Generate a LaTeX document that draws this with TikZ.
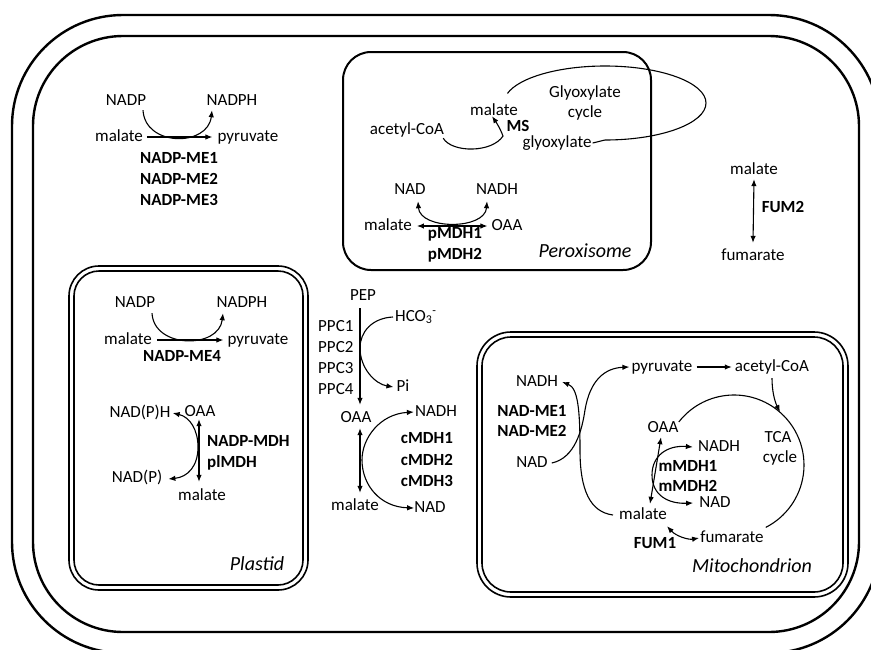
\documentclass[tikz,border=0pt]{standalone}
\usepackage{fontspec}
\setmainfont{Carlito}
\usetikzlibrary{arrows.meta}
\begin{document}
\begin{tikzpicture}[x=1pt,y=1pt,
  >={Latex[length=7pt,width=5.5pt]},
  every node/.style={inner sep=0pt, text height=12pt, text depth=4pt, font=\fontsize{17}{20}\selectfont},
  enz/.style={font=\fontsize{17}{20}\selectfont\bfseries},
  org/.style={font=\fontsize{20}{24}\selectfont\itshape, text height=14pt, text depth=5pt},
  thinl/.style={line width=1.1pt},
  rx/.style={line width=1.1pt,->},
  rxx/.style={line width=1.1pt,<->},
  wall/.style={line width=2.4pt},
  memb/.style={line width=1.6pt},
]
\useasboundingbox (0,0) rectangle (871,-649);
\fill[white] (0,0) rectangle (871,-649);

% cell wall and plasma membrane
\draw[wall, rounded corners=111pt] (12,-15) rectangle (880,-653);
\draw[wall, rounded corners=90pt] (33,-36) rectangle (859,-632);

% organelles
\draw[line width=2pt, rounded corners=28pt] (343,-52) rectangle (651,-270);
\draw[memb, rounded corners=30pt] (69,-266) rectangle (308,-590);
\draw[memb, rounded corners=25pt] (74,-271) rectangle (303,-585);
\draw[memb, rounded corners=34pt] (477,-332) rectangle (848,-597);
\draw[memb, rounded corners=29pt] (482,-337) rectangle (843,-592);

% cytosolic NADP-ME
\node (tNADP) at (126,-101) {NADP};
\node (tNADPH) at (232,-101) {NADPH};
\node (tMal) at (119,-137) {malate};
\node (tPyr) at (248,-137) {pyruvate};
\node[enz] (me1) at (179,-159) {NADP-ME1};
\node[enz] (me2) at (179,-180) {NADP-ME2};
\node[enz] (me3) at (179,-201) {NADP-ME3};
\draw[rx] ([xshift=4pt]tMal.east) -- ([xshift=-5pt]tPyr.west);
\draw[rx] ([xshift=17pt,yshift=-1pt]tNADP.south) .. controls (145,-147) and (208,-147) .. ([xshift=-20pt,yshift=-1pt]tNADPH.south);

% peroxisome
\node (pMalU) at (494,-111) {malate};
\node (pAcCoA) at (407,-130) {acetyl-CoA};
\node[enz] (ms) at (518,-127) {MS};
\node (pGly) at (557,-143) {glyoxylate};
\node (glyT1) at (585,-93) {Glyoxylate};
\node (glyT2) at (585,-113) {cycle};
\coordinate (J) at (503,-136);
\draw[rx] ([xshift=-1pt]pAcCoA.south east) .. controls (452,-153) and (492,-153) .. (J) .. controls (500,-128) and (496,-122) .. ([xshift=-2pt,yshift=3pt]pMalU.south);
\draw[thinl] ([xshift=1pt]pGly.east) -- (605,-140) arc[start angle=270, end angle=525, x radius=101, y radius=37];

\node (pNAD) at (410,-190) {NAD};
\node (pNADH) at (497,-190) {NADH};
\node (pMal) at (388,-226) {malate};
\node (pOAA) at (507,-226) {OAA};
\draw[rxx] ([xshift=5pt]pMal.east) -- ([xshift=-4pt]pOAA.west);
\draw[rxx] ([xshift=8pt,yshift=-3pt]pNAD.south) .. controls (420,-230) and (485,-230) .. ([xshift=-10pt,yshift=-3pt]pNADH.south);
\node[enz] (pmdh1) at (455,-234) {pMDH1};
\node[enz] (pmdh2) at (455,-255) {pMDH2};
\node[org] (perox) at (585,-253) {Peroxisome};

% FUM2
\node (fMal) at (754,-170) {malate};
\node (fFum) at (753,-256) {fumarate};
\draw[rxx] ([yshift=-1pt]fMal.south) -- ([yshift=5pt]fFum.north);
\node[enz] (fum2) at (783,-208) {FUM2};

% plastid
\node (lNADP) at (135,-303) {NADP};
\node (lNADPH) at (242,-303) {NADPH};
\node (lMal) at (128,-340) {malate};
\node (lPyr) at (258,-340) {pyruvate};
\draw[rx] ([xshift=5pt]lMal.east) -- ([xshift=-4pt]lPyr.west);
\draw[rx] ([xshift=17pt,yshift=-2pt]lNADP.south) .. controls (154,-349) and (219,-349) .. ([xshift=-19pt,yshift=-2pt]lNADPH.south);
\node[enz] (me4) at (182,-357) {NADP-ME4};
\node (lNADPH2) at (140,-413) {NAD(P)H};
\node (lOAA) at (200,-412) {OAA};
\node (lMal2) at (202,-496) {malate};
\node (lNADP2) at (137,-478) {NAD(P)};
\draw[rxx] ([xshift=-1pt,yshift=1pt]lOAA.south) -- ([xshift=-3pt,yshift=6pt]lMal2.north);
\draw[rxx] ([xshift=2pt]lNADPH2.east) .. controls (190,-417) and (198,-430) .. (198,-447) .. controls (198,-466) and (188,-477) .. ([xshift=6pt,yshift=-1pt]lNADP2.east);
\node[enz, anchor=west] (nmdh) at (207,-442) {NADP-MDH};
\node[enz, anchor=west] (plmdh) at (207,-463) {plMDH};
\node[org] (plastid) at (257,-566) {Plastid};

% cytosol centre
\node (PEP) at (363,-296) {PEP};
\node (cOAA) at (356,-418) {OAA};
\draw[rx] ([xshift=-3pt,yshift=-4pt]PEP.south) -- ([xshift=4pt,yshift=5pt]cOAA.north);
\node[anchor=west] (ppc1) at (318,-327) {PPC1};
\node[anchor=west] (ppc2) at (318,-348) {PPC2};
\node[anchor=west] (ppc3) at (318,-369) {PPC3};
\node[anchor=west] (ppc4) at (318,-390) {PPC4};
\node[anchor=west] (hco3) at (395,-317) {HCO\textsubscript{3}\textsuperscript{-}};
\node (pi) at (403,-387) {Pi};
\draw[rx] ([xshift=-2pt]hco3.west) .. controls (372,-318) and (360,-332) .. (360,-348) .. controls (360,-368) and (375,-384) .. ([xshift=-3pt]pi.west);
\node (cNADH) at (436,-412) {NADH};
\node (cMal2) at (355,-506) {malate};
\node (cNAD) at (430,-508) {NAD};
\draw[rxx] ([xshift=4pt,yshift=-2pt]cOAA.south) -- ([xshift=5pt,yshift=5pt]cMal2.north);
\draw[rxx] ([xshift=-1pt]cNADH.west) .. controls (380,-414) and (362,-438) .. (362,-460) .. controls (362,-485) and (380,-507) .. (cNAD.west);
\node[enz] (cmdh1) at (427,-439) {cMDH1};
\node[enz] (cmdh2) at (427,-461) {cMDH2};
\node[enz] (cmdh3) at (427,-482) {cMDH3};

% mitochondrion
\node (mNADH) at (537,-382) {NADH};
\node[enz] (nadme1) at (532,-412) {NAD-ME1};
\node[enz] (nadme2) at (532,-432) {NAD-ME2};
\node (mNAD) at (532,-463) {NAD};
\node (mPyr) at (662,-367) {pyruvate};
\node (mAc) at (772,-367) {acetyl-CoA};
\draw[rx] ([xshift=4pt]mPyr.east) -- ([xshift=-3pt]mAc.west);
\draw[rx] ([xshift=4pt]mNAD.east) .. controls (575,-458) and (582,-430) .. (585,-410) .. controls (590,-380) and (605,-368) .. ([xshift=-2pt]mPyr.west);
\node (mMal) at (643,-515) {malate};
\draw[rx] ([xshift=-6pt]mMal.west) .. controls (590,-512) and (580,-490) .. (580,-450) .. controls (580,-410) and (578,-388) .. ([xshift=4pt]mNADH.east);
\node (mFum) at (732,-538) {fumarate};
\node[enz] (fum1) at (655,-544) {FUM1};
\draw[rxx] ([yshift=-3pt]mMal.south east) .. controls (676,-536) and (688,-540) .. ([xshift=-1pt]mFum.west);
\node (mOAA) at (663,-428) {OAA};
\draw[rxx] ([xshift=-2pt,yshift=-1pt]mOAA.south) -- ([xshift=7pt,yshift=3pt]mMal.north);
\node (mNADH2) at (719,-447) {NADH};
\node (mNAD2) at (715,-503) {NAD};
\draw[rxx] ([xshift=-5pt]mNADH2.west) .. controls (668,-445) and (652,-455) .. (652,-475) .. controls (652,-495) and (668,-504) .. ([xshift=-6pt]mNAD2.west);
\node[enz] (mmdh1) at (688,-467) {mMDH1};
\node[enz] (mmdh2) at (688,-487) {mMDH2};
\node (tca1) at (778,-438) {TCA};
\node (tca2) at (780,-458) {cycle};
\coordinate (tcaC) at (734,-465);
\draw[thinl] (tcaC) ++(142:70) arc[start angle=142, end angle=-63, radius=70];
\coordinate (tcaIn) at (780,-412);
\draw[rx] ([yshift=-3pt]mAc.south) .. controls (772,-392) and (775,-402) .. (tcaIn);
\node[org] (mito) at (752,-568) {Mitochondrion};
\end{tikzpicture}
\end{document}
